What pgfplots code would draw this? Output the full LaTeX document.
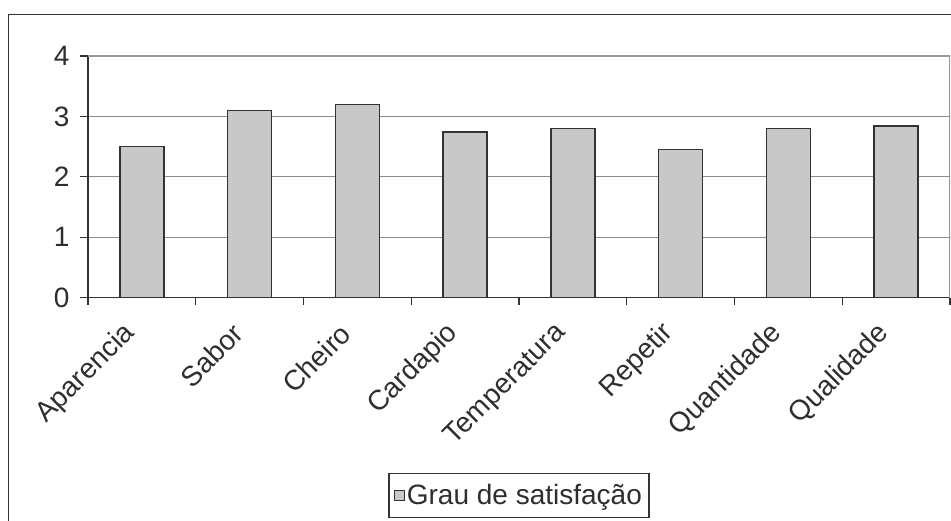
\documentclass[border=0pt]{standalone}
\usepackage{pgfplots}
\pgfplotsset{compat=1.18}
\usepackage{fontspec}
\setmainfont{Liberation Sans}
\definecolor{txt}{HTML}{2E2E2E}
\definecolor{barfill}{HTML}{C8C8C8}
\definecolor{edge}{HTML}{333333}
\definecolor{gridc}{HTML}{8C8C8C}
\definecolor{boxc}{HTML}{A09494}

\newcommand\lbl{\fontsize{28}{32}\selectfont}

\begin{document}
\begin{tikzpicture}
\path[use as bounding box] (0,0) rectangle (951pt,521pt);
% outer chart frame, cut off at the right and bottom
\draw[edge, line width=1.4pt] (8.5pt,-3pt) -- (8.5pt,506.5pt) -- (955pt,506.5pt);
\begin{axis}[
  at={(88pt,223.3pt)}, anchor=south west,
  scale only axis, width=862pt, height=241.7pt,
  axis lines=left, axis line style={-, draw=edge, line width=1.3pt},
  xmin=0.5, xmax=8.5, ymin=0, ymax=4,
  ytick={0,1,2,3,4},
  xtick={1,...,8},
  xticklabels={Aparencia,Sabor,Cheiro,Cardapio,Temperatura,Repetir,Quantidade,Qualidade},
  minor xtick={0.5,1.5,...,8.5},
  tick align=outside,
  major tick length=8pt, minor tick length=7pt,
  x tick style={draw=none},
  minor x tick style={draw=edge, line width=1.2pt},
  y tick style={draw=edge, line width=1.2pt},
  ymajorgrids, grid style={gridc, line width=1.3pt},
  /pgf/number format/assume math mode=true,
  yticklabel style={font=\lbl, text=txt, xshift=-7pt},
  xticklabel style={font=\lbl, text=txt, xshift=-9pt, yshift=-21pt, rotate=45, anchor=east},
  ybar, bar width=44pt,
  legend style={at={(0.5,-0.725)}, anchor=north, draw=edge, line width=1.2pt,
    font=\lbl, text=txt, inner xsep=5pt, inner ysep=9pt},
  legend image code/.code={\draw[#1, line width=0.8pt] (0pt,-5pt) rectangle (10pt,5pt);},
]
\addplot[fill=barfill, draw=edge, line width=1.5pt] coordinates {
  (1,2.50) (2,3.10) (3,3.20) (4,2.74) (5,2.80) (6,2.45) (7,2.80) (8,2.84)
};
\addlegendentry{Grau de satisfação}
\draw[boxc, line width=1.4pt] (rel axis cs:0,1) -- (rel axis cs:1,1) -- (rel axis cs:1,0);
\end{axis}
\end{tikzpicture}
\end{document}
